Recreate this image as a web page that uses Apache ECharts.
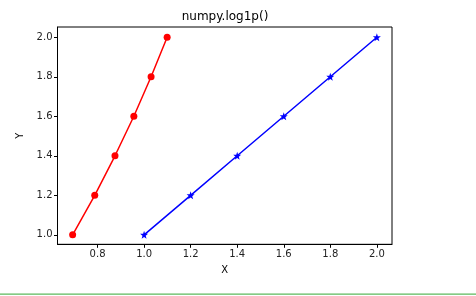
<!DOCTYPE html>
<html><head><meta charset="utf-8">
<script src="https://cdn.jsdelivr.net/npm/echarts@6/dist/echarts.min.js"></script>
<style>html,body{margin:0;padding:0;background:#fff}#c{width:476px;height:296px}</style>
</head><body><div id="c"></div>
<script>
const yValues = [1.0, 1.2, 1.4, 1.6, 1.8, 2.0];
const redX = [0.693, 0.788, 0.875, 0.956, 1.030, 1.099];
const blueX = [1.0, 1.2, 1.4, 1.6, 1.8, 2.0];
const xTicks = [0.8, 1.0, 1.2, 1.4, 1.6, 1.8, 2.0];
const yTicks = [1.0, 1.2, 1.4, 1.6, 1.8, 2.0];

const chart = echarts.init(document.getElementById('c'), null, {renderer: 'canvas'});
const font = 'DejaVu Sans';
chart.setOption({
  animation: false,
  backgroundColor: '#fff',
  title: {text: 'numpy.log1p()', left: 225, top: 11, padding: 0, textAlign: 'center',
    textStyle: {fontFamily: font, fontSize: 12, fontWeight: 'normal', color: '#000'}},
  grid: {left: 57.5, right: 84, top: 27, bottom: 51.7, show: true, borderColor: '#000', borderWidth: 1, backgroundColor: 'transparent'},
  xAxis: {type: 'value', min: 0.628, max: 2.065,
    name: 'X', nameLocation: 'middle', nameGap: 21,
    nameTextStyle: {fontFamily: font, fontSize: 10, color: '#000'},
    axisLine: {show: true, lineStyle: {color: '#000'}},
    axisTick: {show: true, inside: false, length: 3.5, lineStyle: {color: '#000'}, customValues: xTicks},
    axisLabel: {fontFamily: font, fontSize: 10, color: '#222', margin: 5, customValues: xTicks,
      formatter: v => v.toFixed(1)},
    splitLine: {show: false}},
  yAxis: {type: 'value', min: 0.952, max: 2.052,
    name: 'Y', nameLocation: 'middle', nameGap: 31, nameRotate: 90,
    nameTextStyle: {fontFamily: font, fontSize: 10, color: '#000'},
    axisLine: {show: true, lineStyle: {color: '#000'}},
    axisTick: {show: true, inside: false, length: 3.5, lineStyle: {color: '#000'}, customValues: yTicks},
    axisLabel: {fontFamily: font, fontSize: 10, color: '#222', margin: 5, customValues: yTicks,
      formatter: v => v.toFixed(1)},
    splitLine: {show: false}},
  series: [
    {type: 'line', data: redX.map((x, i) => [x, yValues[i]]), color: '#ff0000',
      lineStyle: {width: 1.5, color: '#ff0000'}, symbol: 'circle', symbolSize: 7,
      itemStyle: {color: '#ff0000'}},
    {type: 'line', data: blueX.map((x, i) => [x, yValues[i]]), color: '#0000ff',
      lineStyle: {width: 1.5, color: '#0000ff'},
      symbol: 'path://M0,-10 L2.35,-3.24 L9.51,-3.09 L3.8,1.24 L5.88,8.09 L0,4 L-5.88,8.09 L-3.8,1.24 L-9.51,-3.09 L-2.35,-3.24 Z',
      symbolSize: 8, itemStyle: {color: '#0000ff'}}
  ],
  graphic: [{type: 'rect', shape: {x: 0, y: 293.5, width: 476, height: 1.2}, style: {fill: '#5cb85c'}}]
});
</script></body></html>
